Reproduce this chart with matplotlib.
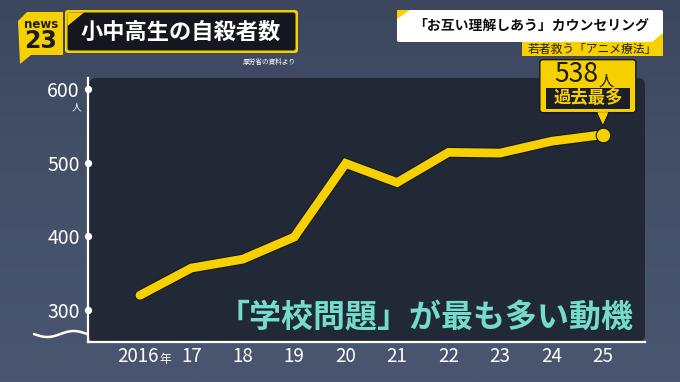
import numpy as np
import matplotlib
matplotlib.use("Agg")
import matplotlib.pyplot as plt
from matplotlib.patches import FancyBboxPatch, Polygon, Rectangle
import matplotlib.patheffects as pe
from matplotlib.transforms import blended_transform_factory, offset_copy
from matplotlib.colors import LinearSegmentedColormap

plt.rcParams['font.family'] = ['Noto Sans CJK JP', 'DejaVu Sans']

# ---- data ----
years = [2016, 2017, 2018, 2019, 2020, 2021, 2022, 2023, 2024, 2025]
counts = [320, 357, 369, 399, 499, 473, 514, 513, 529, 538]
x_labels = ["2016", "17", "18", "19", "20", "21", "22", "23", "24", "25"]
y_ticks = [300, 400, 500, 600]
y_labels = ["300", "400", "500", "600"]
title = "小中高生の自殺者数"
source = "厚労省の資料より"
headline = "「お互い理解しあう」カウンセリング"
subhead = "若者救う「アニメ療法」"
caption = "「学校問題」が最も多い動機"
peak_value = "538"
peak_label = "過去最多"

W, H = 680, 382
YEL = '#f7d000'
fig = plt.figure(figsize=(W / 100, H / 100), dpi=100)

# background layer (pixel coordinates)
bg = fig.add_axes([0, 0, 1, 1], zorder=0)
bg.set_xlim(0, W); bg.set_ylim(H, 0); bg.axis('off')
grad = np.linspace(0, 1, 256).reshape(-1, 1)
cm = LinearSegmentedColormap.from_list('bg', ['#3c475e', '#445169', '#4a5670'])
bg.imshow(grad, aspect='auto', cmap=cm, extent=[0, W, H, 0], zorder=0)
bg.add_patch(FancyBboxPatch((89, 78), 645 - 89, 342 - 78,
                            boxstyle="round,pad=0,rounding_size=7",
                            fc='#212836', ec='none', zorder=1))

# data axes
ax = fig.add_axes([88 / W, (H - 342) / H, (645 - 88) / W, (342 - 78) / H], zorder=1)
ax.patch.set_alpha(0)
ax.set_xlim(2014.99, 2025.82)
ax.set_ylim(256.6, 614.9)
for s in ['top', 'right']:
    ax.spines[s].set_visible(False)
for s in ['left', 'bottom']:
    ax.spines[s].set_color('white')
    ax.spines[s].set_linewidth(1.6)
ax.set_yticks(y_ticks)
ax.set_yticklabels(y_labels, color='white', fontsize=14)
ax.tick_params(axis='y', length=0, pad=6)
ax.set_xticks([])
blend_y = blended_transform_factory(ax.transAxes, ax.transData)
ax.scatter([0] * len(y_ticks), y_ticks, s=18, color='white', transform=blend_y,
           clip_on=False, zorder=5)
ax.text(0, 600, "人", transform=offset_copy(blend_y, fig=fig, x=-12, y=-18, units='dots'),
        color='white', fontsize=7, ha='center', va='center')

blend_x = blended_transform_factory(ax.transData, ax.transAxes)
for yr, lab in zip(years, x_labels):
    if yr == years[0]:
        ax.text(yr, 0, lab, transform=offset_copy(blend_x, fig=fig, x=19, y=-15, units='dots'),
                color='white', fontsize=13.5, ha='right', va='center')
        ax.text(yr, 0, "年", transform=offset_copy(blend_x, fig=fig, x=19, y=-18, units='dots'),
                color='white', fontsize=8.5, ha='left', va='center')
    else:
        ax.text(yr, 0, lab, transform=offset_copy(blend_x, fig=fig, x=0, y=-15, units='dots'),
                color='white', fontsize=13.5, ha='center', va='center')

ax.plot(years, counts, color=YEL, lw=6.3, solid_joinstyle='miter', solid_capstyle='round',
        path_effects=[pe.Stroke(linewidth=7.8, foreground='#15181f'), pe.Normal()], zorder=3)
ax.scatter([years[-1]], [counts[-1]], s=110, color=YEL, edgecolor='#15181f', lw=0.8, zorder=4)

# foreground layer
fg = fig.add_axes([0, 0, 1, 1], zorder=2)
fg.set_xlim(0, W); fg.set_ylim(H, 0); fg.axis('off')

# squiggle (axis break)
xs = np.linspace(34, 87, 60)
fg.plot(xs, 334 + 3 * np.sin((xs - 34) / (87 - 34) * 2 * np.pi), color='white', lw=1.8,
        solid_capstyle='round')

# logo
fg.add_patch(Polygon([(18, 21), (27, 12), (63, 12), (63, 55), (31, 55), (20, 64)],
                     closed=True, fc=YEL, ec='none'))
fg.text(41, 24, "news", color='#1c1c1c', fontsize=8.5, fontweight='bold', ha='center', va='center',
        family='DejaVu Sans')
fg.text(41, 41, "23", color='#1c1c1c', fontsize=17, fontweight='bold', ha='center', va='center',
        family='DejaVu Sans')

# title box
fg.add_patch(FancyBboxPatch((65, 10), 233, 43, boxstyle="round,pad=0,rounding_size=3",
                            fc=YEL, ec='none'))
fg.add_patch(FancyBboxPatch((67.5, 12.5), 228, 38, boxstyle="round,pad=0,rounding_size=2",
                            fc='#14171d', ec='none'))
fg.add_patch(Polygon([(67.5, 12.5), (84, 12.5), (67.5, 26)], closed=True, fc=YEL, ec='none'))
fg.text(181, 32, title, color='white', fontsize=16, fontweight='bold', ha='center', va='center')
fg.text(269, 62, source, color='white', fontsize=4.8, ha='center', va='center')

# headline boxes
fg.add_patch(FancyBboxPatch((397, 10), 266, 32, boxstyle="round,pad=0,rounding_size=2",
                            fc='white', ec='none'))
fg.add_patch(Polygon([(397, 10), (410, 10), (397, 19)], closed=True, fc=YEL, ec='none'))
fg.add_patch(Polygon([(663, 33), (663, 42), (652, 42)], closed=True, fc=YEL, ec='none'))
fg.text(531, 26, headline, color='#111111', fontsize=10, fontweight='bold', ha='center', va='center')
fg.add_patch(Rectangle((522, 42), 141, 14, fc=YEL, ec='none'))
fg.text(592, 49, subhead, color='#1a1a1a', fontsize=8.5, ha='center', va='center')

# callout for the peak value
px, py = ax.transData.transform((years[-1], counts[-1]))
py = H - py
cx = px - 15
fg.add_patch(Polygon([(px - 6, py - 22), (px + 6, py - 22), (px, py - 9)], closed=True,
                     fc=YEL, ec='#15181f', lw=0.8, zorder=3))
fg.add_patch(FancyBboxPatch((cx - 48, py - 75), 96, 53, boxstyle="round,pad=0,rounding_size=3",
                            fc=YEL, ec='#15181f', lw=1.0, zorder=4))
fg.add_patch(Polygon([(px - 5.3, py - 22.5), (px + 5.3, py - 22.5), (px, py - 10.5)],
                     closed=True, fc=YEL, ec='none', zorder=5))
fg.text(cx + 11, py - 60, peak_value, color='#1a1a1a', fontsize=19, ha='right', va='center', zorder=6)
fg.text(cx + 11, py - 54, "人", color='#1a1a1a', fontsize=11, ha='left', va='center', zorder=6)
fg.add_patch(Rectangle((cx - 42, py - 47), 84, 21, fc='#1b1f27', ec='none', zorder=6))
fg.text(cx, py - 36.5, peak_label, color=YEL, fontsize=12.5, fontweight='bold', ha='center',
        va='center', zorder=7)

# caption
fg.text(634, 318, caption, color='#74dccb', fontsize=23, fontweight='bold', ha='right',
        va='center')

fig.savefig('out.png', dpi=100)
